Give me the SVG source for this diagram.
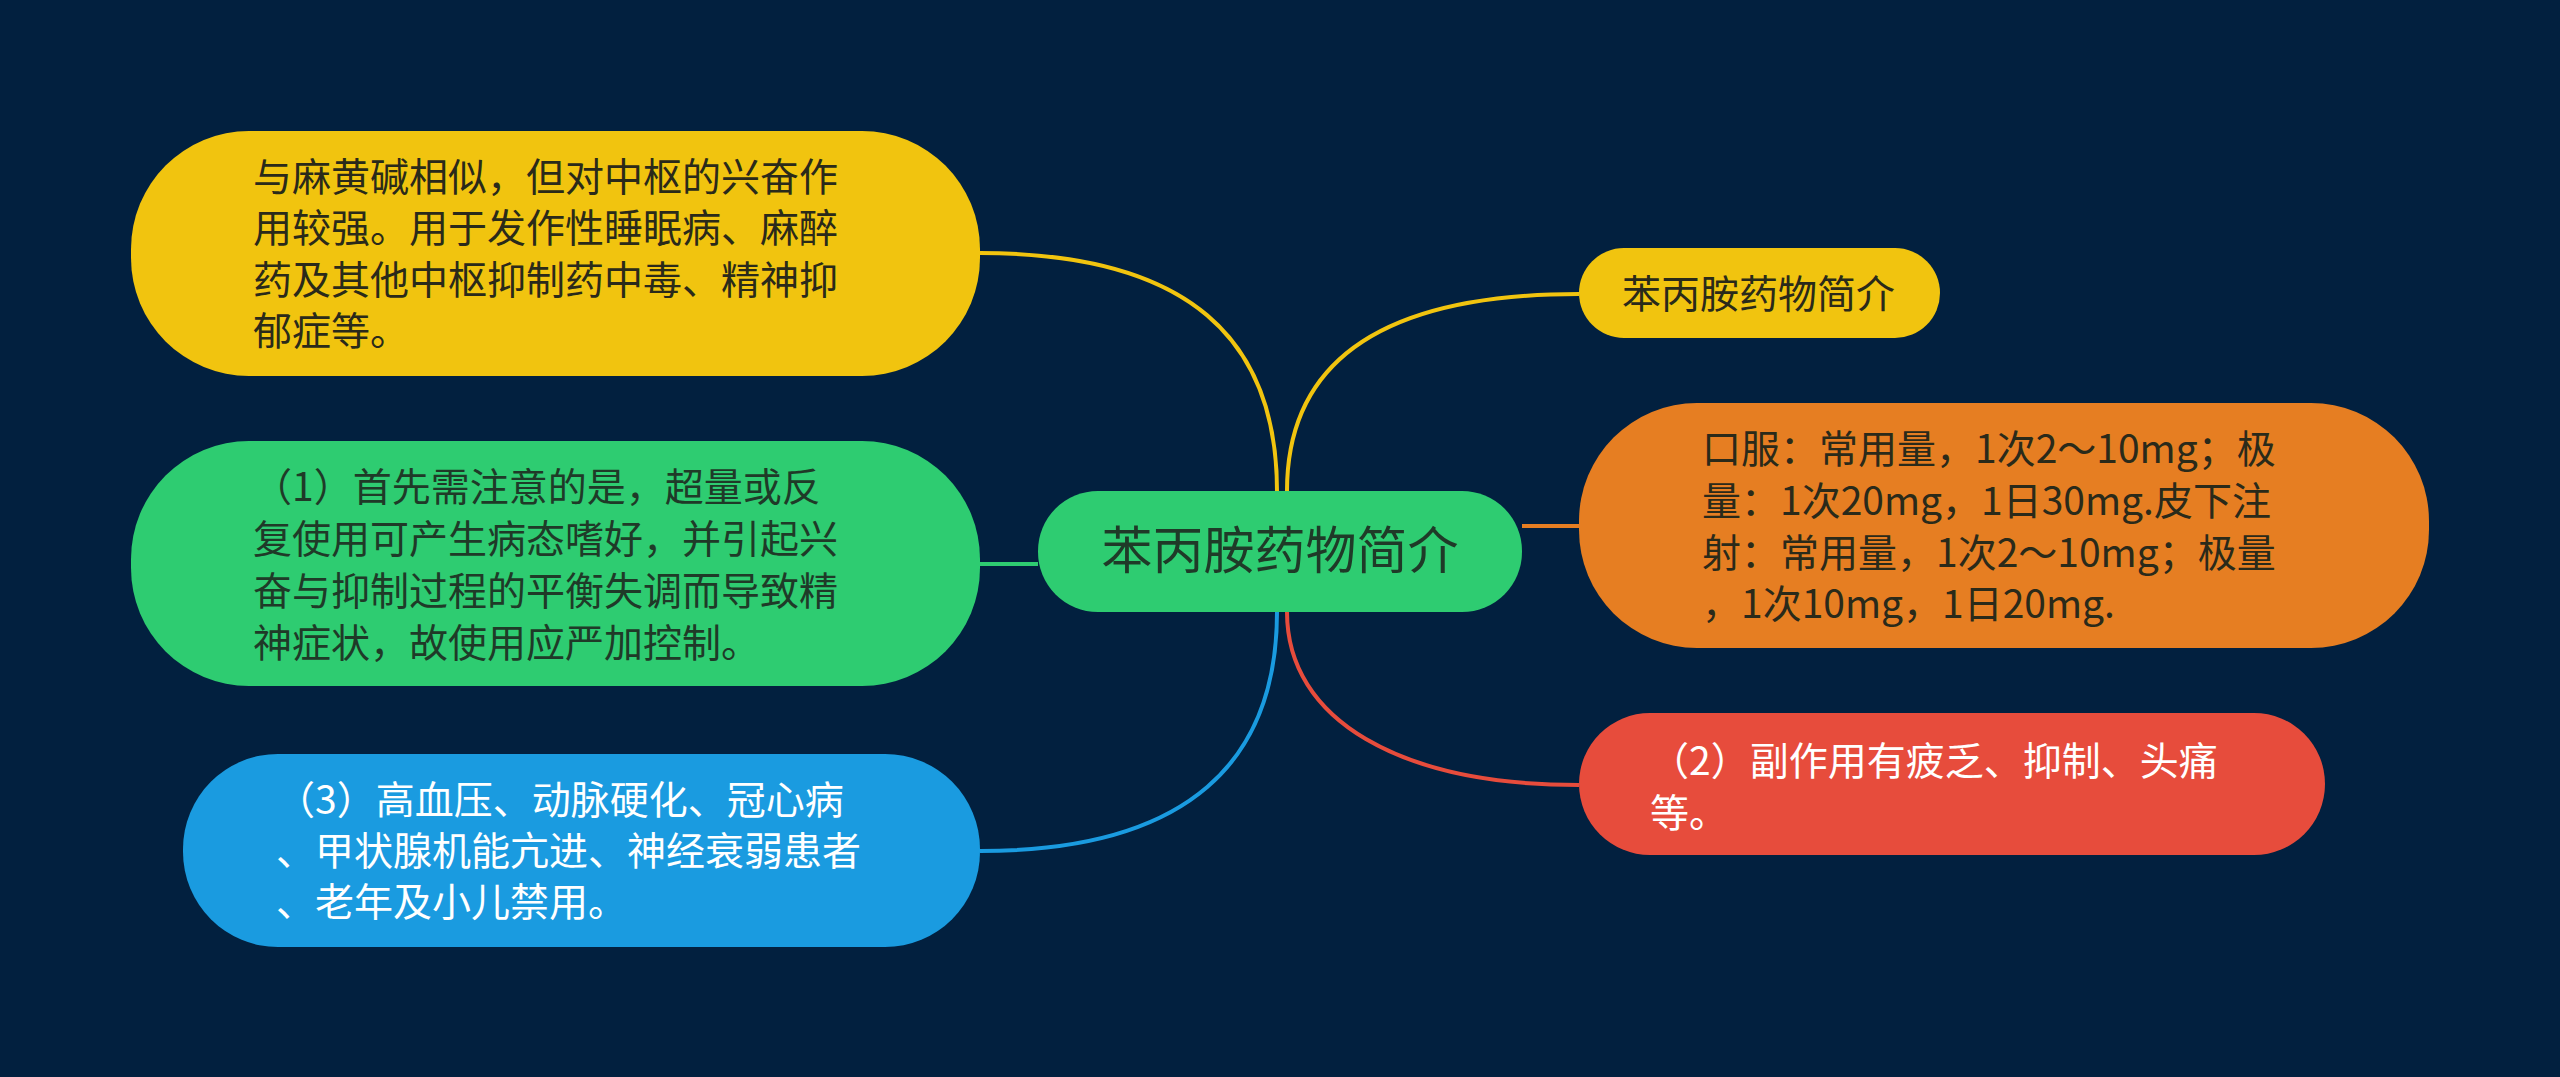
<svg xmlns="http://www.w3.org/2000/svg" width="2560" height="1077" viewBox="0 0 2560 1077">
<style>
.t{font-family:"Noto Sans CJK SC","Noto Sans",sans-serif;font-size:39px}
.c{font-family:"Noto Sans CJK SC","Noto Sans",sans-serif;font-size:51px}
.dk{fill:#2a2a1a}
.gd{fill:#1f3a28}
.wh{fill:#ffffff}
.ln{fill:none;stroke-width:4}
</style>
<rect x="0" y="0" width="2560" height="1077" fill="#02203f"/>
<g id="connectors">
<path class="ln" stroke="#f1c40f" d="M980,253 C1190,253 1277,340 1277,491"/>
<path class="ln" stroke="#f1c40f" d="M1287,491 C1287,350 1400,294 1579,294"/>
<path class="ln" stroke="#e67e22" d="M1522,526 L1579,526"/>
<path class="ln" stroke="#2ecc71" d="M980,564 L1038,564"/>
<path class="ln" stroke="#1a9be0" d="M1277,612 C1277,760 1190,851 980,851"/>
<path class="ln" stroke="#e74c3c" d="M1287,612 C1287,720 1400,785 1579,785"/>
</g>
<g id="node-center">
<rect x="1038" y="491" width="484" height="121" rx="60" ry="60" fill="#2ecc71"/>
<text class="c gd" x="1280" y="569" text-anchor="middle">苯丙胺药物简介</text>
</g>
<g id="node-tl">
<rect x="131" y="131" width="849" height="245" rx="118" ry="118" fill="#f1c40f"/>
<text class="t dk" x="253"><tspan x="253" y="191">与麻黄碱相似，但对中枢的兴奋作</tspan><tspan x="253" y="242">用较强。用于发作性睡眠病、麻醉</tspan><tspan x="253" y="294">药及其他中枢抑制药中毒、精神抑</tspan><tspan x="253" y="345">郁症等。</tspan></text>
</g>
<g id="node-green">
<rect x="131" y="441" width="849" height="245" rx="118" ry="118" fill="#2ecc71"/>
<text class="t gd"><tspan x="253" y="501">（1）首先需注意的是，超量或反</tspan><tspan x="253" y="553">复使用可产生病态嗜好，并引起兴</tspan><tspan x="253" y="605">奋与抑制过程的平衡失调而导致精</tspan><tspan x="253" y="657">神症状，故使用应严加控制。</tspan></text>
</g>
<g id="node-blue">
<rect x="183" y="754" width="797" height="193" rx="95" ry="95" fill="#1a9be0"/>
<text class="t wh"><tspan x="276" y="814">（3）高血压、动脉硬化、冠心病</tspan><tspan x="276" y="865">、甲状腺机能亢进、神经衰弱患者</tspan><tspan x="276" y="916">、老年及小儿禁用。</tspan></text>
</g>
<g id="node-tr">
<rect x="1579" y="248" width="361" height="90" rx="45" ry="45" fill="#f1c40f"/>
<text class="t dk" x="1622" y="308">苯丙胺药物简介</text>
</g>
<g id="node-orange">
<rect x="1579" y="403" width="850" height="245" rx="118" ry="118" fill="#e67e22"/>
<text class="t dk"><tspan x="1702" y="463">口服：常用量，1次2～10mg；极</tspan><tspan x="1702" y="515">量：1次20mg，1日30mg.皮下注</tspan><tspan x="1702" y="567">射：常用量，1次2～10mg；极量</tspan><tspan x="1702" y="618">，1次10mg，1日20mg.</tspan></text>
</g>
<g id="node-red">
<rect x="1579" y="713" width="746" height="142" rx="71" ry="71" fill="#e74c3c"/>
<text class="t wh"><tspan x="1650" y="775">（2）副作用有疲乏、抑制、头痛</tspan><tspan x="1650" y="827">等。</tspan></text>
</g>
</svg>
